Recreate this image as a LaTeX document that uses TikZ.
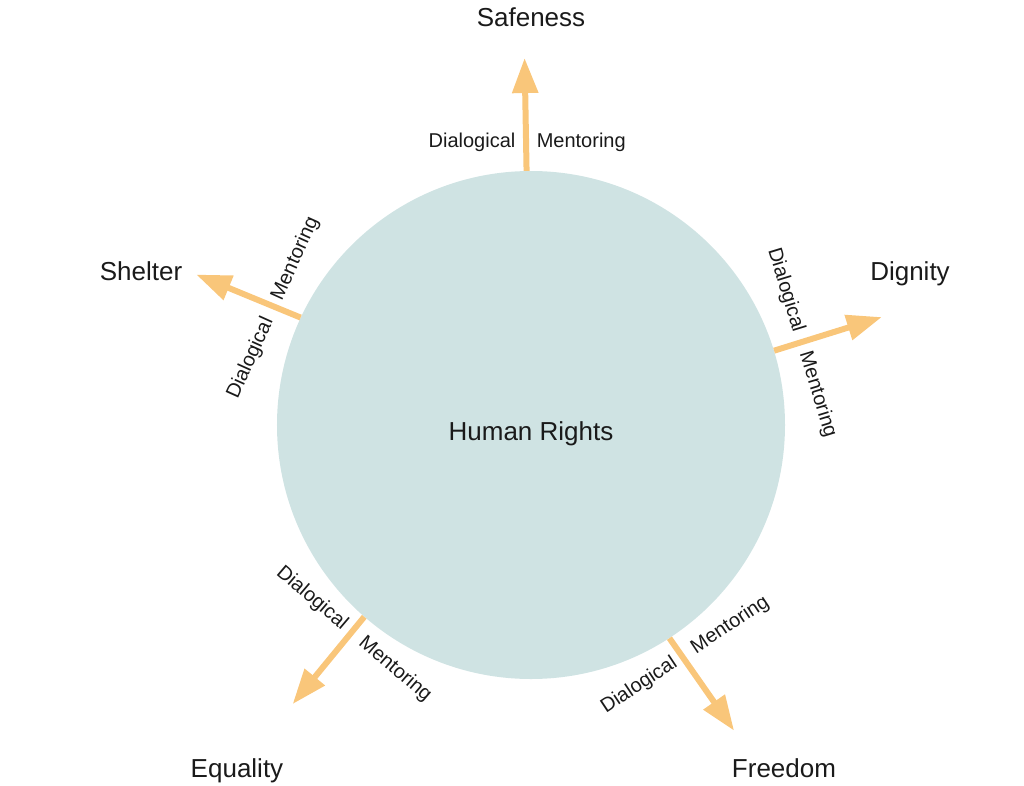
\documentclass[tikz,border=0pt]{standalone}
\usepackage{fontspec}
\setmainfont{Liberation Sans}
\usetikzlibrary{arrows.meta,calc}
\definecolor{arrowc}{HTML}{F9C67A}
\definecolor{circc}{HTML}{CFE3E3}
\definecolor{txt}{HTML}{1A1A1A}
\begin{document}
\begin{tikzpicture}[x=1pt,y=1pt,
  big/.style={font=\fontsize{26}{30}\selectfont, text=txt, inner sep=0, anchor=base},
  small/.style={font=\fontsize{20}{24}\selectfont, text=txt, inner sep=0},
  link/.style={draw=arrowc, line width=6pt, -{Triangle[length=35pt,width=25pt]}}]
\useasboundingbox (-531,-360) rectangle (493,425);
\node[circle, fill=circc, minimum size=508pt, inner sep=0] (hub) at (0,0) {};
\node[big] (hr) at (0,-15) {Human Rights};
\node[big] (safe) at (0,398) {Safeness};
\node[big] (dig) at (379,145) {Dignity};
\node[big] (shel) at (-390,145) {Shelter};
\node[big] (equ) at (-294,-352) {Equality};
\node[big] (free) at (253,-352) {Freedom};
\foreach \t/\r/\R/\i in {91/0/283/1, 17.1/-73/283/2, 155.8/65.8/283/3, 229.5/-40.5/274/4, 303.6/33.6/277/5}{
  \coordinate (tip\i) at (\t:367);
  \draw[link] (hub.\t) -- (tip\i);
  \node[small, rotate=\r, anchor=east] (dl\i) at ($(\t:\R)+(\r:-10.5)$) {Dialogical};
  \node[small, rotate=\r, anchor=west] (mt\i) at ($(\t:\R)+(\r:10.5)$) {Mentoring};
}
\end{tikzpicture}
\end{document}
